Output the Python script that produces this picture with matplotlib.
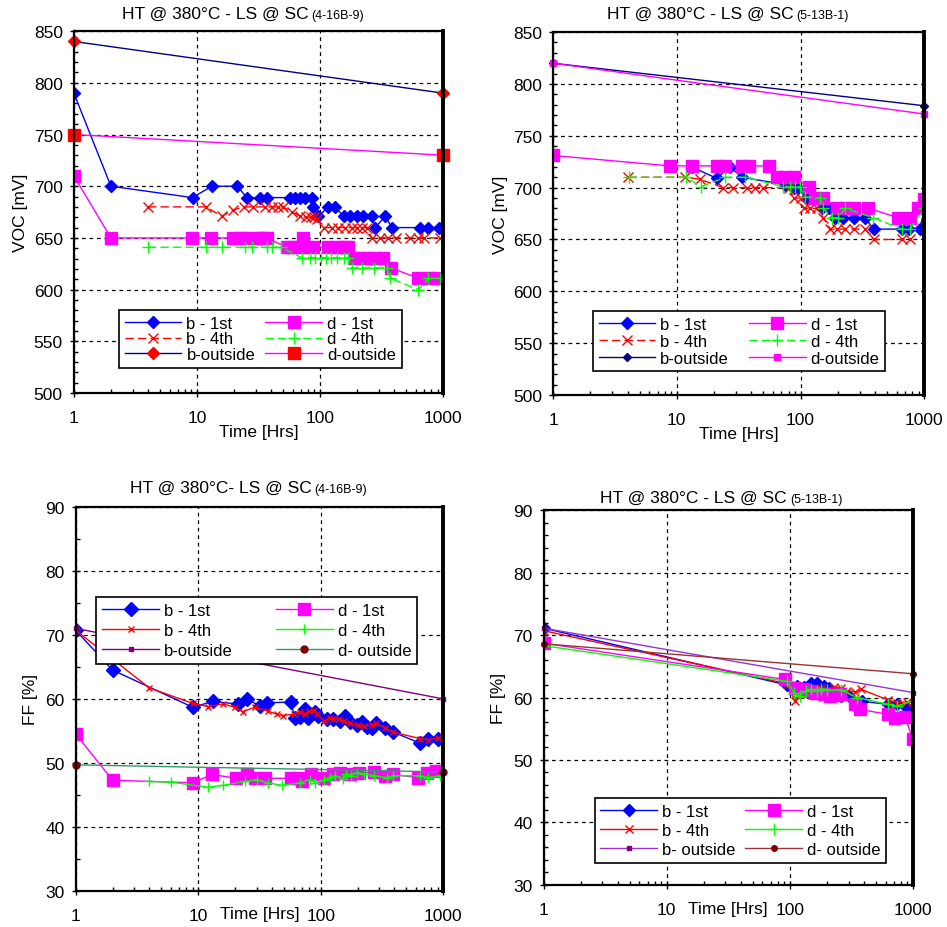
import matplotlib.pyplot as plt
from matplotlib.ticker import MultipleLocator, LogLocator, NullFormatter, FixedLocator, FixedFormatter

plt.rcParams['font.family'] = ['Liberation Sans', 'DejaVu Sans']

# ---------- VOC, sample 4-16B-9 (top left) ----------
tl_b1_t = [1, 2, 9.2, 13.2, 21.3, 25.4, 32.5, 37.3, 57, 62.6, 68.8, 75.5, 85.5, 88, 97, 117, 132,
           155, 175, 199, 225, 263, 280, 338, 383, 650, 759, 916]
tl_b1_v = [790, 700, 689, 700, 700, 689, 689, 689, 689, 689, 689, 689, 689, 680, 671, 680, 680,
           671, 671, 671, 671, 671, 660, 671, 660, 660, 660, 660]
tl_b4_t = [4, 11.8, 15.9, 19.7, 24, 28.7, 35.7, 40.5, 45.8, 50.3, 59, 69, 77, 84, 90, 95, 107, 125,
           140, 160, 180, 200, 220, 240, 263, 306, 355, 412, 541, 620, 700, 940]
tl_b4_v = [680, 680, 671, 677, 680, 680, 680, 680, 680, 680, 675, 671, 670, 670, 670, 668, 660, 660,
           660, 660, 660, 660, 660, 660, 650, 650, 650, 650, 650, 650, 650, 650]
tl_d1_t = [1, 2, 9.06, 13, 19.7, 22.4, 25, 30.5, 34.6, 36.8, 53.6, 60.7, 68.8, 72.3, 78, 88, 117,
           137, 155, 170, 187, 211, 240, 272, 327, 376, 630, 760, 889]
tl_d1_v = [710, 650, 650, 650, 650, 650, 650, 650, 650, 650, 641, 641, 641, 650, 641, 641, 641,
           641, 641, 641, 631, 631, 631, 631, 631, 621, 611, 611, 611]
tl_d4_t = [4, 11.8, 15.9, 24.6, 28.1, 36.8, 40.8, 48, 70.7, 83.3, 91.6, 101, 111, 122, 137, 155,
           170, 181, 219, 272, 348, 371, 630, 759, 940]
tl_d4_v = [641, 641, 641, 641, 641, 641, 641, 641, 631, 631, 631, 631, 631, 631, 631, 631,
           631, 621, 621, 621, 621, 611, 600, 611, 611]
tl_bo_t = [1, 1000]
tl_bo_v = [840, 790]
tl_do_t = [1, 1000]
tl_do_v = [750, 730]

# ---------- VOC, sample 5-13B-1 (top right) ----------
tr_b1_t = [13.2, 21, 27, 33.5, 75, 88, 96, 110, 125, 150, 170, 190, 222, 268, 333, 389, 659, 746,
           916, 1000]
tr_b1_v = [720, 709, 720, 710, 703, 700, 700, 690, 690, 680, 680, 671, 671, 671, 671, 660, 660, 660,
           660, 678]
tr_b4_t = [4.06, 11.7, 15.4, 23.8, 28.7, 36.8, 43, 50, 80, 88, 100, 106, 120, 136, 153, 174, 196,
           229, 268, 333, 389, 659, 760]
tr_b4_v = [710, 710, 708, 700, 700, 700, 700, 700, 700, 690, 690, 680, 680, 680, 671, 660, 660,
           660, 660, 660, 650, 650, 650]
tr_d1_t = [1, 8.8, 13.2, 21, 24.6, 33.5, 38, 56, 64, 75, 88, 116, 131, 153, 196, 229, 268, 354,
           616, 766, 898, 1000]
tr_d1_v = [731, 721, 721, 721, 721, 721, 721, 721, 710, 710, 710, 701, 690, 690, 680, 680, 680, 680,
           671, 671, 680, 689]
tr_d4_t = [4.08, 11.9, 15.7, 24.6, 35.7, 72.7, 82, 90, 99, 109, 144, 153, 179, 202, 229, 387, 656,
           766, 1000]
tr_d4_v = [710, 710, 701, 710, 710, 701, 701, 701, 701, 691, 690, 680, 671, 671, 680, 671, 660,
           660, 680]
tr_bo_t = [1, 1000]
tr_bo_v = [820, 779]
tr_do_t = [1, 1000]
tr_do_v = [820, 771]

# ---------- FF, sample 4-16B-9 (bottom left) ----------
bl_b1_t = [1, 2, 9.0, 13.1, 21.2, 24.8, 31.9, 36.6, 57, 61.5, 67.6, 74.3, 79, 89.7, 95.5, 112, 127,
           144, 158, 173, 197, 216, 237, 261, 282, 334, 391, 646, 755, 912]
bl_b1_v = [70.7, 64.5, 58.7, 59.6, 59.2, 60.0, 58.9, 59.4, 59.5, 57.0, 57.2, 58.4, 57.0, 57.9, 57.4,
           56.9, 56.9, 56.5, 57.3, 56.4, 55.9, 56.4, 55.6, 55.4, 56.3, 55.4, 54.8, 53.1, 53.8, 53.7]
bl_b4_t = [1, 4, 9, 12, 16, 20, 23, 29, 37, 44, 49, 60, 68, 75, 80, 88, 93, 107, 118, 127, 140,
           155, 173, 200, 225, 260, 282, 334, 391, 646, 755, 912, 1000]
bl_b4_v = [70.7, 61.7, 59.3, 58.8, 59.2, 58.7, 58.0, 58.7, 58.1, 57.6, 57.4, 57.6, 57.9, 57.7, 58.1,
           58.2, 57.6, 56.6, 57.0, 56.9, 56.8, 56.6, 56.2, 55.9, 55.7, 56.0, 56.2, 55.5, 54.8, 53.8,
           53.6, 53.9, 54.0]
bl_d1_t = [1, 2, 9, 13, 20.4, 24.8, 29, 35.4, 57.5, 65, 70.8, 84, 107, 127, 144, 173, 204, 272,
           334, 391, 626, 733, 880]
bl_d1_v = [54.5, 47.3, 46.9, 48.2, 47.6, 48.2, 47.6, 47.6, 47.6, 47.6, 47.2, 48.2, 47.7, 48.2, 48.5,
           48.2, 48.4, 48.6, 47.9, 48.2, 47.7, 48.5, 48.8]
bl_d4_t = [4, 6, 12, 16, 24, 30, 37, 48, 68, 81, 90, 107, 118, 131, 153, 162, 177, 197, 225, 272,
           348, 391, 646, 755, 950]
bl_d4_v = [47.1, 47.0, 46.2, 46.5, 47.1, 47.4, 46.9, 46.5, 46.9, 47.4, 46.9, 47.3, 47.7, 48.0, 47.5,
           48.3, 48.0, 48.5, 48.3, 48.0, 47.7, 48.0, 48.0, 47.7, 48.0]
bl_bo_t = [1, 1000]
bl_bo_v = [71.0, 60.0]
bl_do_t = [1, 1000]
bl_do_v = [49.7, 48.6]

# ---------- FF, sample 5-13B-1 (bottom right) ----------
br_b1_t = [1, 95, 105, 115, 130, 150, 165, 190, 210, 240, 263, 300, 383, 630, 737, 890, 1000]
br_b1_v = [71.1, 62.0, 61.5, 61.8, 61.7, 62.3, 62.3, 61.8, 61.5, 60.5, 60.2, 60.2, 59.4, 58.9, 58.9,
           58.4, 58.0]
br_b4_t = [1, 95, 110, 120, 140, 160, 180, 200, 230, 260, 290, 340, 380, 630, 737, 890, 1000]
br_b4_v = [70.7, 62.2, 59.5, 60.5, 61.0, 61.3, 61.5, 61.2, 61.7, 61.5, 61.1, 60.9, 61.3, 59.6, 59.2,
           59.3, 59.1]
br_d1_t = [1, 91, 110, 128, 145, 160, 190, 211, 240, 255, 338, 371, 631, 715, 861, 1000]
br_d1_v = [68.7, 62.9, 61.5, 61.3, 61.0, 60.8, 60.6, 60.3, 60.4, 60.5, 58.9, 58.1, 57.3, 56.8, 56.9,
           53.3]
br_d4_t = [1, 95, 108, 120, 135, 150, 165, 180, 200, 263, 350, 631, 737, 1000]
br_d4_v = [68.3, 62.6, 60.8, 60.3, 61.0, 61.3, 61.0, 61.4, 61.2, 61.2, 60.0, 58.9, 58.6, 59.5]
br_bo_t = [1, 1000]
br_bo_v = [71.1, 60.8]
br_do_t = [1, 1000]
br_do_v = [68.6, 63.8]

labels = ['b - 1st', 'b - 4th', 'b-outside', 'd - 1st', 'd - 4th', 'd-outside']
dash = (0, (6, 3))

fig = plt.figure(figsize=(9.47, 9.28), dpi=100)
ax_tl = fig.add_axes([0.078, 0.5754, 0.390, 0.390])
ax_tr = fig.add_axes([0.584, 0.5733, 0.392, 0.391])
ax_bl = fig.add_axes([0.080, 0.0388, 0.388, 0.414])
ax_br = fig.add_axes([0.574, 0.0453, 0.390, 0.404])


def style_axis(ax, ylim, ystep, yminor, ylabel, ylab_x):
    ax.set_xscale('log')
    ax.set_xlim(1, 1000)
    ax.set_ylim(*ylim)
    ax.xaxis.set_major_locator(FixedLocator([1, 10, 100, 1000]))
    ax.xaxis.set_major_formatter(FixedFormatter(['1', '10', '100', '1000']))
    ax.xaxis.set_minor_locator(LogLocator(base=10, subs=range(2, 10)))
    ax.xaxis.set_minor_formatter(NullFormatter())
    ax.yaxis.set_major_locator(MultipleLocator(ystep))
    ax.yaxis.set_minor_locator(MultipleLocator(yminor))
    ax.tick_params(axis='both', which='major', direction='inout', length=6, width=1,
                   labelsize=12.5, colors='black')
    ax.tick_params(axis='x', which='major', pad=9)
    ax.tick_params(axis='y', which='major', pad=5)
    ax.tick_params(axis='both', which='minor', direction='in', length=3, width=1)
    ax.grid(which='major', color='black', linestyle=(0, (3, 3)), linewidth=0.9)
    for s in ['left', 'top', 'bottom']:
        ax.spines[s].set_linewidth(1.6)
    ax.spines['right'].set_linewidth(2.8)
    ax.set_ylabel(ylabel, fontsize=12.5)
    ax.yaxis.set_label_coords(ylab_x, 0.5)


def title(x, y, main, small):
    t = fig.text(x, y, main, fontsize=12.5, ha='left', va='center')
    fig.canvas.draw()
    plt.annotate(small, xy=(1, 0.5), xycoords=t, xytext=(2, -1), textcoords='offset points',
                 fontsize=9, ha='left', va='center', annotation_clip=False)


# ---- top left ----
ax = ax_tl
style_axis(ax, (500, 850), 50, 10, 'VOC [mV]', -0.125)
ax.plot(tl_b1_t, tl_b1_v, color='#0000FF', lw=1, marker='D', ms=6, label=labels[0])
ax.plot(tl_b4_t, tl_b4_v, color='#FF0000', lw=1, ls=dash, marker='x', ms=7, label=labels[1])
ax.plot(tl_bo_t, tl_bo_v, color='#000080', lw=1, marker='D', ms=6, mfc='#FF0000', mec='#FF0000',
        label=labels[2], clip_on=False)
ax.plot(tl_d1_t, tl_d1_v, color='#FF00FF', lw=1, marker='s', ms=8, label=labels[3])
ax.plot(tl_d4_t, tl_d4_v, color='#00FF00', lw=1, ls=dash, marker='+', ms=8, label=labels[4])
ax.plot(tl_do_t, tl_do_v, color='#FF00FF', lw=1, marker='s', ms=8, mfc='#FF0000', mec='#FF0000',
        label=labels[5], clip_on=False)
ax.text(0.5, -0.105, 'Time [Hrs]', transform=ax.transAxes, ha='center', va='center', fontsize=12.5)

# ---- top right ----
ax = ax_tr
style_axis(ax, (500, 850), 50, 10, 'VOC [mV]', -0.121)
ax.plot(tr_b1_t, tr_b1_v, color='#0000FF', lw=1, marker='D', ms=6, label=labels[0])
ax.plot(tr_b4_t, tr_b4_v, color='#FF0000', lw=1, ls=dash, marker='x', ms=7, label=labels[1])
ax.plot(tr_bo_t, tr_bo_v, color='#000080', lw=1, marker='D', ms=4, label=labels[2], clip_on=False)
ax.plot(tr_d1_t, tr_d1_v, color='#FF00FF', lw=1, marker='s', ms=8, label=labels[3])
ax.plot(tr_d4_t, tr_d4_v, color='#00FF00', lw=1, ls=dash, marker='+', ms=8, label=labels[4])
ax.plot(tr_do_t, tr_do_v, color='#FF00FF', lw=1, marker='s', ms=5, label=labels[5], clip_on=False)
ax.text(0.5, -0.105, 'Time [Hrs]', transform=ax.transAxes, ha='center', va='center', fontsize=12.5)

# ---- bottom left ----
ax = ax_bl
style_axis(ax, (30, 90), 10, 5, 'FF [%]', -0.104)
ax.plot(bl_b1_t, bl_b1_v, color='#0000FF', lw=1, marker='D', ms=7, label=labels[0])
ax.plot(bl_b4_t, bl_b4_v, color='#FF0000', lw=1, marker='x', ms=5, label=labels[1])
ax.plot(bl_bo_t, bl_bo_v, color='#800080', lw=1, marker='s', ms=3, label=labels[2], clip_on=False)
ax.plot(bl_d1_t, bl_d1_v, color='#FF00FF', lw=1, marker='s', ms=8, label=labels[3])
ax.plot(bl_d4_t, bl_d4_v, color='#00FF00', lw=1, marker='+', ms=7, label=labels[4])
ax.plot(bl_do_t, bl_do_v, color='#339966', lw=1, marker='o', ms=5, mfc='#800000', mec='#800000',
        label='d- outside', clip_on=False)
ax.text(0.5, -0.058, 'Time [Hrs]', transform=ax.transAxes, ha='center', va='center', fontsize=12.5)

# ---- bottom right ----
ax = ax_br
style_axis(ax, (30, 90), 10, 2, 'FF [%]', -0.103)
ax.plot(br_b1_t, br_b1_v, color='#0000FF', lw=1, marker='D', ms=6, label=labels[0])
ax.plot(br_b4_t, br_b4_v, color='#FF0000', lw=1, marker='x', ms=6, label=labels[1])
ax.plot(br_bo_t, br_bo_v, color='#9933CC', lw=1, marker='s', ms=3, mfc='#800080', mec='#800080',
        label='b- outside', clip_on=False)
ax.plot(br_d1_t, br_d1_v, color='#FF00FF', lw=1, marker='s', ms=8, label=labels[3])
ax.plot(br_d4_t, br_d4_v, color='#00FF00', lw=1, marker='+', ms=8, label=labels[4])
ax.plot(br_do_t, br_do_v, color='#993333', lw=1, marker='o', ms=4, mfc='#800000', mec='#800000',
        label='d- outside', clip_on=False)
ax.text(0.5, -0.062, 'Time [Hrs]', transform=ax.transAxes, ha='center', va='center', fontsize=12.5)

# legends
for ax, anchor, spacing, colsp in [(ax_tl, (0.122, 0.069), 0.05, 0.6),
                                   (ax_tr, (0.107, 0.065), 0.1, 1.2),
                                   (ax_bl, (0.056, 0.591), 0.3, 2.6),
                                   (ax_br, (0.138, 0.059), 0.25, 0.6)]:
    leg = ax.legend(loc='lower left', bbox_to_anchor=anchor, ncol=2, fontsize=12,
                    handlelength=3.4, handletextpad=0.3, labelspacing=spacing,
                    columnspacing=colsp, borderpad=0.35, borderaxespad=0, fancybox=False,
                    framealpha=1, edgecolor='black')
    leg.get_frame().set_linewidth(1.2)

# titles
title(0.129, 0.984, 'HT @ 380°C - LS @ SC', '(4-16B-9)')
title(0.641, 0.984, 'HT @ 380°C - LS @ SC', '(5-13B-1)')
title(0.137, 0.474, 'HT @ 380°C- LS @ SC', '(4-16B-9)')
title(0.634, 0.463, 'HT @ 380°C - LS @ SC', '(5-13B-1)')

fig.savefig('out.png', dpi=100, facecolor='white')
